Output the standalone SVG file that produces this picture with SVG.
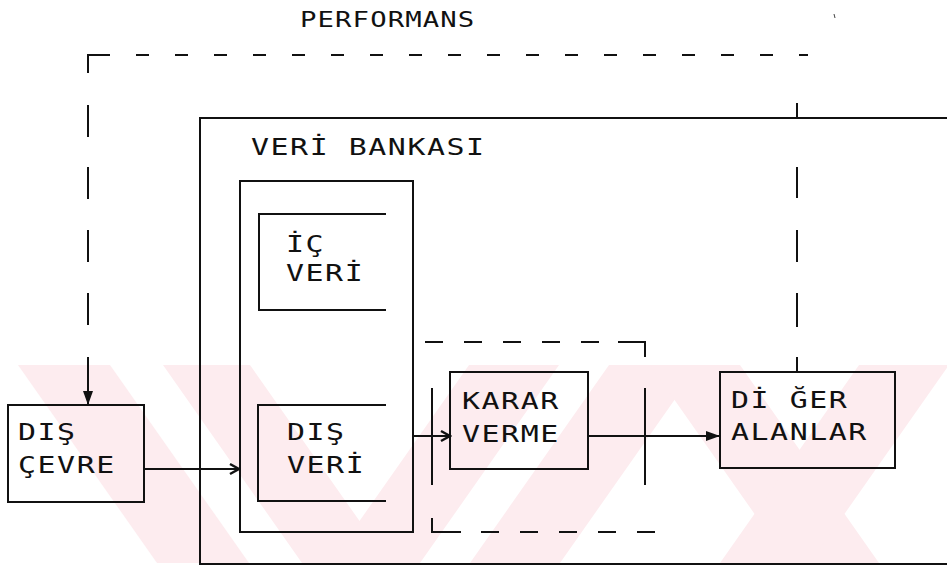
<svg xmlns="http://www.w3.org/2000/svg" width="947" height="567" viewBox="0 0 947 567">
<defs>
<style>
.t{font-family:"DejaVu Sans Mono","Liberation Mono",monospace;font-size:23px;fill:#111;letter-spacing:1.2px}
.s{font-size:21px;letter-spacing:0.85px}
.b{fill:none;stroke:#111;stroke-width:2}
.c{fill:none;stroke:#111;stroke-width:2}
.wm{fill:#fdecef}
</style>
<marker id="open" markerUnits="userSpaceOnUse" markerWidth="14" markerHeight="14" refX="12" refY="7" orient="auto">
<path d="M3,2 L12,7 L3,12" fill="none" stroke="#111" stroke-width="2.5"/>
</marker>
<marker id="fill" markerUnits="userSpaceOnUse" markerWidth="16" markerHeight="14" refX="15" refY="7" orient="auto">
<path d="M1,2 L15,7 L1,12 Z" fill="#111"/>
</marker>
<clipPath id="wmclip"><rect x="0" y="365" width="947" height="198"/></clipPath>
</defs>
<rect width="947" height="567" fill="#fff"/>
<g id="watermark" clip-path="url(#wmclip)">
<polygon class="wm" points="18,365 110,365 249,563 157,563"/>
<polygon class="wm" points="163,365 250,365 389,563 302,563"/>
<polygon class="wm" points="330,563 420,563 559,365 469,365"/>
<polygon class="wm" points="470,563 560,563 699,365 609,365"/>
<polygon class="wm" points="650,365 740,365 879,563 789,563"/>
<polygon class="wm" points="720,563 810,563 949,365 859,365"/>
</g>
<g id="performans">
<text class="t s" transform="translate(300,27) scale(1.3,1)">PERFORMANS</text>
</g>
<g id="veri-bankasi">
<path class="b" d="M947,118 H200 V564 H947"/>
<text class="t" transform="translate(251,155) scale(1.3,1)">VERİ BANKASI</text>
</g>
<g id="veri-container">
<rect class="b" x="240" y="181" width="173" height="351"/>
</g>
<g id="ic-veri">
<path class="b" d="M386,214 H259 V310 H386"/>
<text class="t" transform="translate(286,252) scale(1.3,1)">İÇ</text>
<text class="t" transform="translate(286,281) scale(1.3,1)">VERİ</text>
</g>
<g id="dis-veri">
<path class="b" d="M386,405 H258 V501 H386"/>
<text class="t" transform="translate(287,440) scale(1.3,1)">DIŞ</text>
<text class="t" transform="translate(287,473) scale(1.3,1)">VERİ</text>
</g>
<g id="dis-cevre">
<rect class="b" x="8" y="405" width="136" height="97"/>
<text class="t" transform="translate(18,440) scale(1.3,1)">DIŞ</text>
<text class="t" transform="translate(18,473) scale(1.3,1)">ÇEVRE</text>
</g>
<g id="karar-verme">
<rect class="b" x="450" y="372" width="138" height="97"/>
<text class="t" transform="translate(462,409) scale(1.3,1)">KARAR</text>
<text class="t" transform="translate(462,442) scale(1.3,1)">VERME</text>
</g>
<g id="diger-alanlar">
<rect class="b" x="720" y="372" width="175" height="96"/>
<text class="t" transform="translate(731,408) scale(1.3,1)">Dİ ĞER</text>
<text class="t" transform="translate(731,440) scale(1.3,1)">ALANLAR</text>
</g>
<g id="connectors">
<path class="c" d="M88,73 V55 H110"/>
<line class="c" x1="136" y1="55" x2="808" y2="55" stroke-dasharray="13 26"/>
<line class="c" x1="88" y1="105" x2="88" y2="137"/>
<line class="c" x1="88" y1="167" x2="88" y2="199"/>
<line class="c" x1="88" y1="230" x2="88" y2="262"/>
<line class="c" x1="88" y1="293" x2="88" y2="325"/>
<line class="c" x1="88" y1="357" x2="88" y2="405" marker-end="url(#fill)"/>
<line class="c" x1="797" y1="103" x2="797" y2="117"/>
<line class="c" x1="797" y1="167" x2="797" y2="198"/>
<line class="c" x1="797" y1="230" x2="797" y2="262"/>
<line class="c" x1="797" y1="293" x2="797" y2="327"/>
<line class="c" x1="797" y1="357" x2="797" y2="372"/>
<line class="c" x1="425" y1="342" x2="618" y2="342" stroke-dasharray="18 21"/>
<path class="c" d="M618,342 H645 V357"/>
<line class="c" x1="432" y1="388" x2="432" y2="485"/>
<line class="c" x1="645" y1="388" x2="645" y2="485"/>
<path class="c" d="M432,518 V532 H461"/>
<line class="c" x1="481" y1="532" x2="656" y2="532" stroke-dasharray="18 21"/>
<line class="c" x1="144" y1="469" x2="239" y2="469" marker-end="url(#open)"/>
<line class="c" x1="413" y1="436" x2="450" y2="436" marker-end="url(#open)"/>
<line class="c" x1="588" y1="436" x2="720" y2="436" marker-end="url(#fill)"/>
</g>
<line x1="834" y1="14" x2="835" y2="18" stroke="#444" stroke-width="1"/>
</svg>
